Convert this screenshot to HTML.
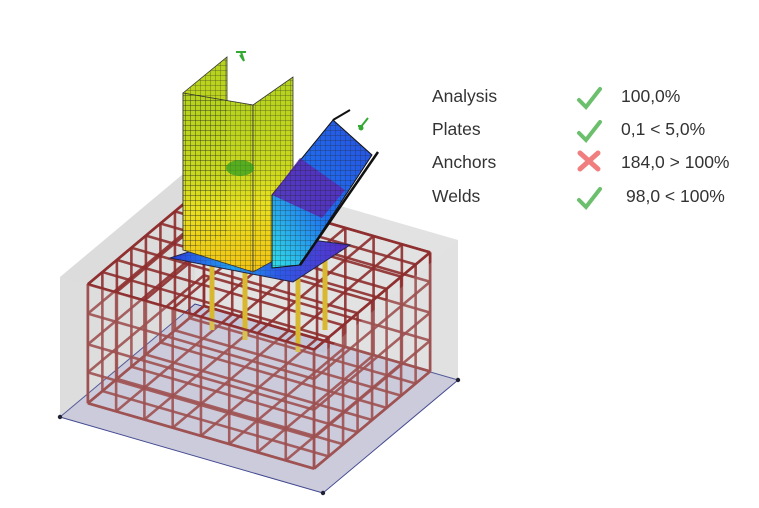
<!DOCTYPE html>
<html><head><meta charset="utf-8"><style>
html,body{margin:0;padding:0;background:#fff;width:759px;height:508px;overflow:hidden}
.t{position:absolute;font-family:"Liberation Sans",sans-serif;font-size:17.5px;color:#333}
</style></head><body>
<svg id="s" width="759" height="508" style="position:absolute;left:0;top:0" xmlns="http://www.w3.org/2000/svg">
<defs>
<linearGradient id="col" x1="0" y1="0" x2="0" y2="1">
<stop offset="0" stop-color="#b4d21e"/><stop offset="0.45" stop-color="#c8d81e"/><stop offset="0.65" stop-color="#e8e020"/><stop offset="1" stop-color="#f2c414"/>
</linearGradient>
<linearGradient id="pl" x1="0" y1="0" x2="1" y2="0">
<stop offset="0" stop-color="#2a3ae0"/><stop offset="0.35" stop-color="#20a0f0"/><stop offset="0.6" stop-color="#2c5ae8"/><stop offset="1" stop-color="#5a2cc8"/>
</linearGradient>
<linearGradient id="br" x1="0" y1="1" x2="1" y2="0">
<stop offset="0" stop-color="#30e0e8"/><stop offset="0.45" stop-color="#1e70f0"/><stop offset="1" stop-color="#2850e0"/>
</linearGradient>
<pattern id="mesh" width="5" height="5" patternUnits="userSpaceOnUse"><path d="M0 0H5M0 0V5" stroke="#222" stroke-width="0.7" fill="none" opacity="0.75"/></pattern>
</defs>
<g id="back"></g>
<g id="cage"></g>
<g id="steel">
<line x1="212" y1="262" x2="212" y2="330" stroke="#d8b830" stroke-width="5"/>
<line x1="245" y1="268" x2="245" y2="340" stroke="#d8b830" stroke-width="5"/>
<line x1="298" y1="278" x2="298" y2="352" stroke="#d8b830" stroke-width="5"/>
<line x1="325" y1="260" x2="325" y2="330" stroke="#d8b830" stroke-width="5"/>
<polygon points="170,258 250,232 350,245 293,282" fill="url(#pl)" stroke="#224" stroke-width="1"/>
<polygon points="170,258 250,232 350,245 293,282" fill="url(#mesh)" opacity="0.5"/>
<polygon points="183,93 227,57 227,235 183,250" fill="url(#col)" stroke="#333" stroke-width="0.8"/>
<polygon points="183,93 253,105 253,272 183,250" fill="url(#col)" stroke="#333" stroke-width="0.8"/>
<polygon points="253,105 293,77 293,250 253,272" fill="url(#col)" stroke="#333" stroke-width="0.8"/>
<polygon points="183,93 227,57 227,235 183,250" fill="url(#mesh)"/>
<polygon points="183,93 253,105 253,272 183,250" fill="url(#mesh)"/>
<polygon points="253,105 293,77 293,250 253,272" fill="url(#mesh)"/>
<ellipse cx="240" cy="168" rx="14" ry="8" fill="#2a9a20" opacity="0.7"/>
<polygon points="272,195 333,120 372,155 300,265 272,268" fill="url(#br)" stroke="#111" stroke-width="1"/>
<polygon points="272,195 333,120 372,155 300,265 272,268" fill="url(#mesh)"/>
<polygon points="272,195 300,158 345,190 322,218" fill="#5a2cb8" opacity="0.85"/>
<polygon points="272,195 300,158 345,190 322,218" fill="url(#mesh)"/>
<line x1="333" y1="120" x2="350" y2="110" stroke="#111" stroke-width="2"/>
<line x1="300" y1="265" x2="378" y2="152" stroke="#111" stroke-width="2.5"/>
<path d="M240 55 L244 61 L241 52 M236 52 h10" stroke="#3a3" stroke-width="2" fill="none"/>
<path d="M360 128 L368 118 M358 126 l5 0" stroke="#3a3" stroke-width="2" fill="none"/>
<circle cx="361" cy="128" r="2.5" fill="#3a3"/>
</g>
<g id="front"></g>
<g fill="none" stroke-linecap="round">
<path d="M579 100 L586 107 L600 89" stroke="#6cbf6c" stroke-width="4"/>
<path d="M579 133 L586 140 L600 122" stroke="#6cbf6c" stroke-width="4"/>
<path d="M580 153 L598 169 M598 153 L580 169" stroke="#f07e7e" stroke-width="5"/>
<path d="M579 200 L586 207 L600 189" stroke="#6cbf6c" stroke-width="4"/>
</g>
</svg>
<div class="t" style="left:432px;top:86px">Analysis</div>
<div class="t" style="left:432px;top:119px">Plates</div>
<div class="t" style="left:432px;top:152px">Anchors</div>
<div class="t" style="left:432px;top:186px">Welds</div>
<div class="t" style="left:621px;top:86px">100,0%</div>
<div class="t" style="left:621px;top:119px">0,1 &lt; 5,0%</div>
<div class="t" style="left:621px;top:152px">184,0 &gt; 100%</div>
<div class="t" style="left:626px;top:186px">98,0 &lt; 100%</div>
<script>
var NS="http://www.w3.org/2000/svg";
function P(x,y,z){return [323-263*x+135*y, 493-76*x-113*y-140*z];}
function el(g,t,a){var e=document.createElementNS(NS,t);for(var k in a)e.setAttribute(k,a[k]);document.getElementById(g).appendChild(e);return e;}
function poly(g,pts,a){a.points=pts.map(function(p){return p.join(",")}).join(" ");return el(g,"polygon",a);}
function ln(g,a,b,c){el(g,"line",{x1:a[0],y1:a[1],x2:b[0],y2:b[1],stroke:c||"#8e2e2e","stroke-width":2.6,"stroke-opacity":0.9});}
poly("back",[P(1,0,0),P(1,1,0),P(1,1,1),P(1,0,1)],{fill:"#dcdcdc"});
poly("back",[P(0,1,0),P(1,1,0),P(1,1,1),P(0,1,1)],{fill:"#e2e2e2"});
poly("back",[P(0,0,0),P(1,0,0),P(1,1,0),P(0,1,0)],{fill:"#c6c6da",stroke:"#333a88","stroke-width":1});
var a=0.07,b=0.93,zl=0.08,zh=0.93;
var n=8;
for(var i=0;i<=n;i++){var t=a+(b-a)*i/n;
 ln("cage",P(t,b,zl),P(t,b,zh)); ln("cage",P(b,t,zl),P(b,t,zh));}
for(var i=0;i<=n;i++){var t=a+(b-a)*i/n;
 ln("cage",P(t,a,zl),P(t,b,zl)); ln("cage",P(a,t,zl),P(b,t,zl));
 ln("cage",P(t,a,zh),P(t,b,zh)); ln("cage",P(a,t,zh),P(b,t,zh));}
var lv=[zl,0.3,0.5,0.72,zh];
lv.forEach(function(z){ln("cage",P(a,b,z),P(b,b,z));ln("cage",P(b,a,z),P(b,b,z));});
lv.forEach(function(z){ln("front",P(a,a,z),P(b,a,z));ln("front",P(a,a,z),P(a,b,z));});
for(var i=0;i<=n;i++){var t=a+(b-a)*i/n;
 ln("front",P(t,a,zl),P(t,a,zh)); ln("front",P(a,t,zl),P(a,t,zh));}
poly("front",[P(0,0,0),P(1,0,0),P(1,0,1),P(0,0,1)],{fill:"#e0e0e0","fill-opacity":0.2});
poly("front",[P(0,0,0),P(0,1,0),P(0,1,1),P(0,0,1)],{fill:"#e0e0e0","fill-opacity":0.2});
[P(1,0,0),P(0,0,0),P(0,1,0)].forEach(function(p){el("front","circle",{cx:p[0],cy:p[1],r:2.2,fill:"#223"});});
</script>
</body></html>
